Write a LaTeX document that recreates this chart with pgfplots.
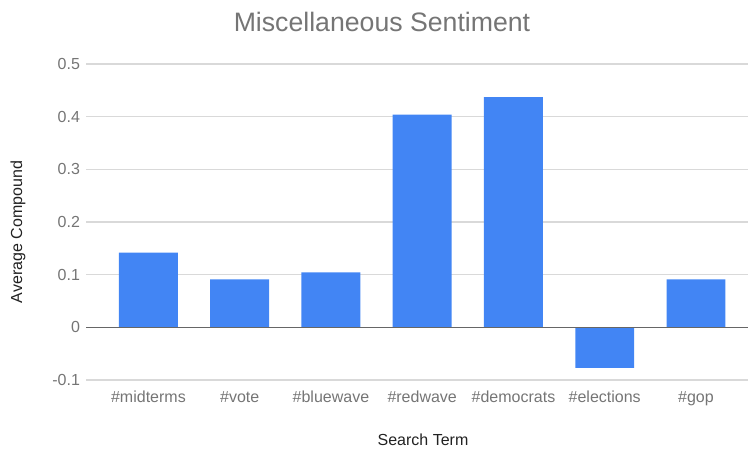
\documentclass[border=0pt]{standalone}
\usepackage{pgfplots}
\pgfplotsset{compat=1.18}
\usepackage{fontspec}
\setmainfont{Liberation Sans}
\definecolor{barblue}{HTML}{4285F4}
\definecolor{gridgray}{HTML}{D9D9D9}
\definecolor{ticktext}{HTML}{757575}
\definecolor{zeroline}{HTML}{666666}
\definecolor{labeltext}{HTML}{222222}
\begin{document}
\begin{tikzpicture}
\path[use as bounding box] (-64.5pt,-53.25pt) rectangle (496.5pt,285pt);
\begin{axis}[
  at={(0,0)}, anchor=south west,
  scale only axis,
  width=496.5pt, height=237pt,
  xmin=-0.684, xmax=6.57,
  ymin=-0.1, ymax=0.5,
  ytick={-0.1,0,0.1,0.2,0.3,0.4,0.5},
  yticklabels={-0.1,0,0.1,0.2,0.3,0.4,0.5},
  xtick={0,1,2,3,4,5,6},
  xticklabels={\#midterms,\#vote,\#bluewave,\#redwave,\#democrats,\#elections,\#gop},
  axis line style={draw=none},
  major tick length=0pt,
  ymajorgrids,
  major grid style={gridgray, line width=0.9pt},
  tick label style={font=\fontsize{12}{14}\selectfont, text=ticktext},
  xticklabel style={anchor=base, yshift=-16.5pt},
  yticklabel style={xshift=-1pt},
  clip=false,
]
\addplot[ybar, bar width=0.646, fill=barblue, draw=none] coordinates {
  (0,0.142) (1,0.0913) (2,0.1046) (3,0.404) (4,0.437) (5,-0.0768) (6,0.0913)
};
\addplot[zeroline, line width=1pt, no markers] coordinates {(-0.684,0) (6.57,0)};
\end{axis}
\node[text=ticktext, font=\fontsize{20}{24}\selectfont] at (222pt,268.5pt) {Miscellaneous Sentiment};
\node[text=labeltext, font=\fontsize{12}{14}\selectfont, rotate=90] at (-51pt,111pt) {Average Compound};
\node[text=labeltext, font=\fontsize{12}{14}\selectfont] at (252.75pt,-45pt) {Search Term};
\end{tikzpicture}
\end{document}
